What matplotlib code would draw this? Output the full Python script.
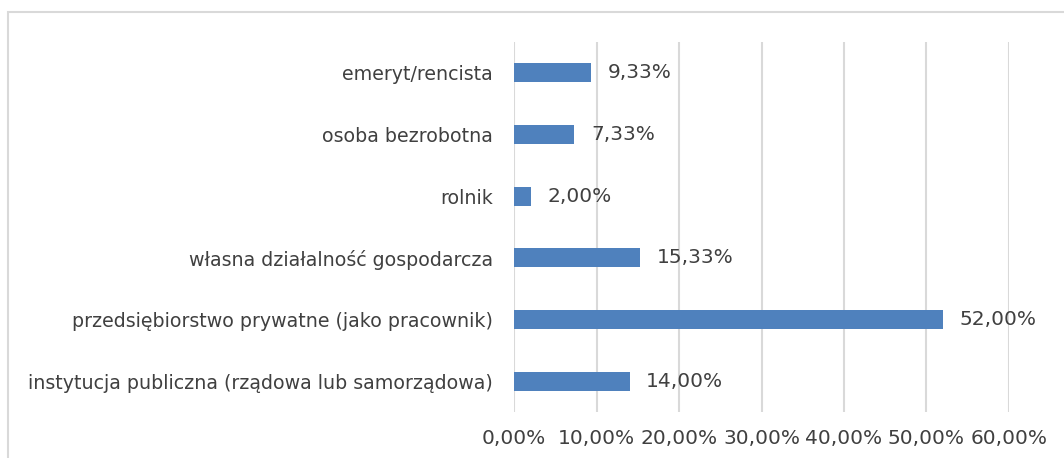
import matplotlib.pyplot as plt
from matplotlib.patches import Rectangle
from matplotlib.ticker import FuncFormatter

# ── data ───────────────────────────────────────────────────────────────────
categories = [
    "instytucja publiczna (rządowa lub samorządowa)",
    "przedsiębiorstwo prywatne (jako pracownik)",
    "własna działalność gospodarcza",
    "rolnik",
    "osoba bezrobotna",
    "emeryt/rencista",
]
values = [14.00, 52.00, 15.33, 2.00, 7.33, 9.33]
xticks = [0, 10, 20, 30, 40, 50, 60]

BAR = "#4F81BD"
GRID = "#D9D9D9"
TEXT = "#404040"

plt.rcParams["font.family"] = ["DejaVu Sans"]

fig = plt.figure(figsize=(10.64, 4.58), dpi=100)
ax = fig.add_axes([514 / 1064, 1 - 412 / 458, (1009 - 514) / 1064, (412 - 42) / 458])

# chart frame (only left and top edges visible in the crop)
fig.patches.append(Rectangle((8 / 1064, -0.1), 1.2, 1 - 12 / 458 + 0.1,
                             transform=fig.transFigure, fill=False,
                             edgecolor=GRID, linewidth=1.5))

pos = range(len(categories))
bars = ax.barh(pos, values, height=0.31, color=BAR, zorder=3)

for b, v in zip(bars, values):
    ax.annotate(f"{v:.2f}%".replace(".", ","),
                (b.get_width(), b.get_y() + b.get_height() / 2),
                xytext=(12, 0), textcoords="offset points",
                va="center", ha="left", fontsize=14.5, color=TEXT)

ax.set_xlim(0, 60)
ax.set_ylim(-0.5, len(categories) - 0.5)
ax.set_xticks(xticks)
ax.xaxis.set_major_formatter(FuncFormatter(lambda x, _: f"{x:.2f}%".replace(".", ",")))
ax.set_yticks(list(pos))
ax.set_yticklabels(categories)
ax.tick_params(axis="y", length=0, pad=15, labelsize=13.7, labelcolor=TEXT)
ax.tick_params(axis="x", length=0, pad=12, labelsize=14.5, labelcolor=TEXT)
ax.grid(axis="x", color=GRID, linewidth=1.5, zorder=0)
for s in ax.spines.values():
    s.set_visible(False)

plt.savefig("out.png", dpi=100)
